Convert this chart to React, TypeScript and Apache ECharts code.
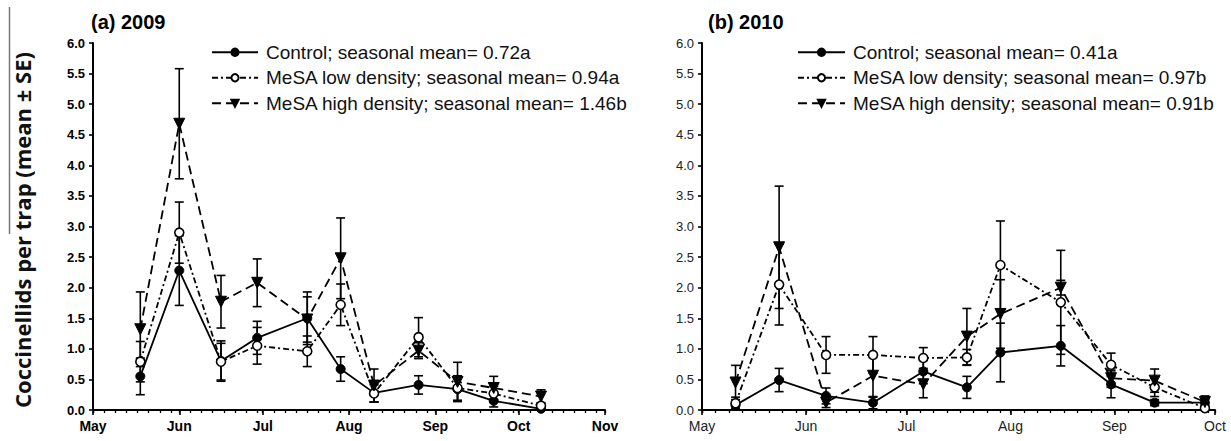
import React, { useEffect, useRef } from "react";
import * as echarts from "echarts";

const monthNames = ["Jan", "Feb", "Mar", "Apr", "May", "Jun", "Jul", "Aug", "Sep", "Oct", "Nov", "Dec"];

const dates2009 = ["2009-05-18", "2009-06-01", "2009-06-16", "2009-06-29", "2009-07-17", "2009-07-29", "2009-08-10", "2009-08-26", "2009-09-09", "2009-09-22", "2009-10-09"];
const control2009 = [0.55, 2.28, 0.8, 1.18, 1.5, 0.67, 0.28, 0.41, 0.34, 0.15, 0.02];
const control2009SE = [0.3, 0.57, 0.33, 0.27, 0.43, 0.2, 0.15, 0.15, 0.2, 0.1, 0.02];
const low2009 = [0.79, 2.9, 0.79, 1.05, 0.96, 1.72, 0.27, 1.19, 0.36, 0.27, 0.07];
const low2009SE = [0.33, 0.5, 0.3, 0.3, 0.25, 0.34, 0.14, 0.32, 0.2, 0.12, 0.05];
const high2009 = [1.32, 4.68, 1.77, 2.08, 1.48, 2.48, 0.4, 0.97, 0.46, 0.36, 0.22];
const high2009SE = [0.61, 0.9, 0.43, 0.39, 0.37, 0.66, 0.27, 0.13, 0.32, 0.19, 0.11];

const dates2010 = ["2010-05-11", "2010-05-24", "2010-06-07", "2010-06-21", "2010-07-06", "2010-07-19", "2010-07-29", "2010-08-16", "2010-08-31", "2010-09-13", "2010-09-28"];
const control2010 = [0.08, 0.49, 0.23, 0.12, 0.63, 0.37, 0.94, 1.05, 0.42, 0.12, 0.12];
const control2010SE = [0.05, 0.19, 0.13, 0.1, 0.2, 0.18, 0.48, 0.33, 0.22, 0.05, 0.06];
const low2010 = [0.11, 2.05, 0.9, 0.9, 0.85, 0.86, 2.37, 1.76, 0.74, 0.37, 0.03];
const low2010SE = [0.1, 0.66, 0.3, 0.3, 0.17, 0.13, 0.72, 0.85, 0.19, 0.15, 0.03];
const high2010 = [0.45, 2.66, 0.12, 0.56, 0.42, 1.2, 1.57, 2.0, 0.52, 0.48, 0.13];
const high2010SE = [0.28, 1.0, 0.08, 0.35, 0.22, 0.46, 0.56, 0.12, 0.15, 0.19, 0.1];

const names2009 = [
  "Control; seasonal mean= 0.72a",
  "MeSA low density; seasonal mean= 0.94a",
  "MeSA high density; seasonal mean= 1.46b",
];
const names2010 = [
  "Control; seasonal mean= 0.41a",
  "MeSA low density; seasonal mean= 0.97b",
  "MeSA high density; seasonal mean= 0.91b",
];
const panelTitles = ["(a) 2009", "(b) 2010"];
const yAxisTitle = "Coccinellids per trap (mean \u00b1 SE)";
const xRange2009 = ["2009-05-01", "2009-11-01"];
const xRange2010 = ["2010-05-01", "2010-10-01"];

const FONT = "'Liberation Sans', Arial, sans-serif";
const DAY = 86400000;

const ts = (d: string) => Date.parse(d);

function lineSeries(name: string, dates: string[], vals: number[], kind: number, axis: number) {
  const styles = [
    { symbol: "circle", symbolSize: 9, itemStyle: { color: "#000", borderColor: "#000", borderWidth: 1 }, type: "solid", rot: 0 },
    { symbol: "circle", symbolSize: 9, itemStyle: { color: "#fff", borderColor: "#000", borderWidth: 1.6 }, type: [6, 3, 2, 3], rot: 0 },
    { symbol: "triangle", symbolSize: 11, itemStyle: { color: "#000", borderColor: "#000", borderWidth: 1 }, type: [9, 5], rot: 180 },
  ];
  const s = styles[kind];
  return {
    type: "line",
    name,
    xAxisIndex: axis * 2,
    yAxisIndex: axis,
    data: dates.map((d, i) => [ts(d), vals[i]]),
    symbol: s.symbol,
    symbolSize: s.symbolSize,
    symbolRotate: s.rot,
    showAllSymbol: true,
    itemStyle: s.itemStyle,
    lineStyle: { color: "#000", width: 1.8, type: s.type },
    z: 3,
  };
}

function errorSeries(dates: string[], vals: number[], ses: number[], axis: number) {
  return {
    type: "custom",
    name: "err" + axis,
    xAxisIndex: axis * 2,
    yAxisIndex: axis,
    z: 2,
    encode: { x: 0, y: 1 },
    data: dates.map((d, i) => [ts(d), vals[i], ses[i]]),
    renderItem: (params: any, api: any) => {
      const x = api.value(0);
      const v = api.value(1);
      const se = api.value(2);
      const top = api.coord([x, v + se]);
      const bot = api.coord([x, Math.max(0, v - se)]);
      const hw = 4.5;
      const style = { stroke: "#000", lineWidth: 1.6 };
      return {
        type: "group",
        children: [
          { type: "line", shape: { x1: top[0], y1: top[1], x2: bot[0], y2: bot[1] }, style },
          { type: "line", shape: { x1: top[0] - hw, y1: top[1], x2: top[0] + hw, y2: top[1] }, style },
          { type: "line", shape: { x1: bot[0] - hw, y1: bot[1], x2: bot[0] + hw, y2: bot[1] }, style },
        ],
      };
    },
  };
}

function xAxis(range: string[], grid: number, splitNumber: number, bold: boolean) {
  return {
    type: "time",
    gridIndex: grid,
    min: ts(range[0]),
    max: ts(range[1]),
    splitNumber,
    minInterval: 28 * DAY,
    maxInterval: 31 * DAY,
    axisLine: { show: true, lineStyle: { color: "#000", width: 2 } },
    axisTick: { show: true, length: 5, lineStyle: { color: "#000", width: 1.6 } },
    splitLine: { show: false },
    axisLabel: {
      margin: 9,
      color: bold ? "#000" : "#222",
      fontSize: 14,
      fontWeight: bold ? "bold" : "normal",
      fontFamily: FONT,
      showMinLabel: true,
      showMaxLabel: true,
      formatter: (v: number) => monthNames[new Date(v).getUTCMonth()],
    },
  };
}

function minorXAxis(range: string[], grid: number) {
  return {
    type: "time",
    gridIndex: grid,
    position: "bottom",
    min: ts(range[0]),
    max: ts(range[1]),
    splitNumber: 26,
    minInterval: 7 * DAY,
    maxInterval: 8 * DAY,
    axisLine: { show: false },
    axisTick: { show: true, length: 3, lineStyle: { color: "#000", width: 1.3 } },
    splitLine: { show: false },
    axisLabel: { show: false },
  };
}

function yAxis(grid: number, bold: boolean) {
  return {
    type: "value",
    gridIndex: grid,
    min: 0,
    max: 6,
    interval: 0.5,
    axisLine: { show: true, lineStyle: { color: "#000", width: 2 } },
    axisTick: { show: true, length: 4, lineStyle: { color: "#000", width: 1.6 } },
    splitLine: { show: false },
    axisLabel: {
      margin: 8,
      color: bold ? "#000" : "#222",
      fontSize: 13,
      fontWeight: bold ? "bold" : "normal",
      fontFamily: FONT,
      formatter: (v: number) => v.toFixed(1),
    },
  };
}

function legend(names: string[], left: number, width: number) {
  return {
    orient: "vertical",
    left,
    top: 37,
    itemWidth: width,
    itemHeight: 9,
    itemGap: 5,
    selectedMode: false,
    data: names,
    textStyle: { fontSize: 19, lineHeight: 20.5, color: "#111", fontFamily: FONT, padding: [0, 0, 0, 3] },
  };
}

export default function App() {
  const ref = useRef<HTMLDivElement>(null);
  useEffect(() => {
    if (!ref.current) return;
    const chart = echarts.init(ref.current, null, { renderer: "svg" });
    const option: any = {
      animation: false,
      useUTC: true,
      backgroundColor: "#fff",
      title: [
        { text: panelTitles[0], left: 86, top: 7, textStyle: { fontSize: 20, fontWeight: "bold", color: "#000", fontFamily: FONT } },
        { text: panelTitles[1], left: 703, top: 7, textStyle: { fontSize: 20, fontWeight: "bold", color: "#000", fontFamily: FONT } },
      ],
      legend: [legend(names2009, 206, 46), legend(names2010, 792, 47)],
      grid: [
        { left: 93, right: 626, top: 43, bottom: 31 },
        { left: 702, right: 16, top: 43, bottom: 31 },
      ],
      xAxis: [
        xAxis(xRange2009, 0, 6, true),
        minorXAxis(xRange2009, 0),
        xAxis(xRange2010, 1, 5, false),
        minorXAxis(xRange2010, 1),
      ],
      yAxis: [yAxis(0, true), yAxis(1, false)],
      graphic: [
        {
          type: "text",
          x: 22,
          y: 230,
          rotation: Math.PI / 2,
          style: {
            text: yAxisTitle,
            fontSize: 22,
            fontWeight: "bold",
            fontFamily: "'Open Sans', sans-serif",
            fill: "#111",
            align: "center",
            verticalAlign: "middle",
          },
        },
        {
          type: "line",
          shape: { x1: 9.5, y1: 7, x2: 9.5, y2: 234 },
          style: { stroke: "#777", lineWidth: 1.5 },
        },
      ],
      series: [
        errorSeries(dates2009, control2009, control2009SE, 0),
        errorSeries(dates2009, low2009, low2009SE, 0),
        errorSeries(dates2009, high2009, high2009SE, 0),
        lineSeries(names2009[0], dates2009, control2009, 0, 0),
        lineSeries(names2009[1], dates2009, low2009, 1, 0),
        lineSeries(names2009[2], dates2009, high2009, 2, 0),
        errorSeries(dates2010, control2010, control2010SE, 1),
        errorSeries(dates2010, low2010, low2010SE, 1),
        errorSeries(dates2010, high2010, high2010SE, 1),
        lineSeries(names2010[0], dates2010, control2010, 0, 1),
        lineSeries(names2010[1], dates2010, low2010, 1, 1),
        lineSeries(names2010[2], dates2010, high2010, 2, 1),
      ],
    };
    chart.setOption(option);
    return () => chart.dispose();
  }, []);
  return (
    <div
      ref={ref}
      style={{ position: "fixed", left: 0, top: 0, width: 1231, height: 441, background: "#fff" }}
    />
  );
}
